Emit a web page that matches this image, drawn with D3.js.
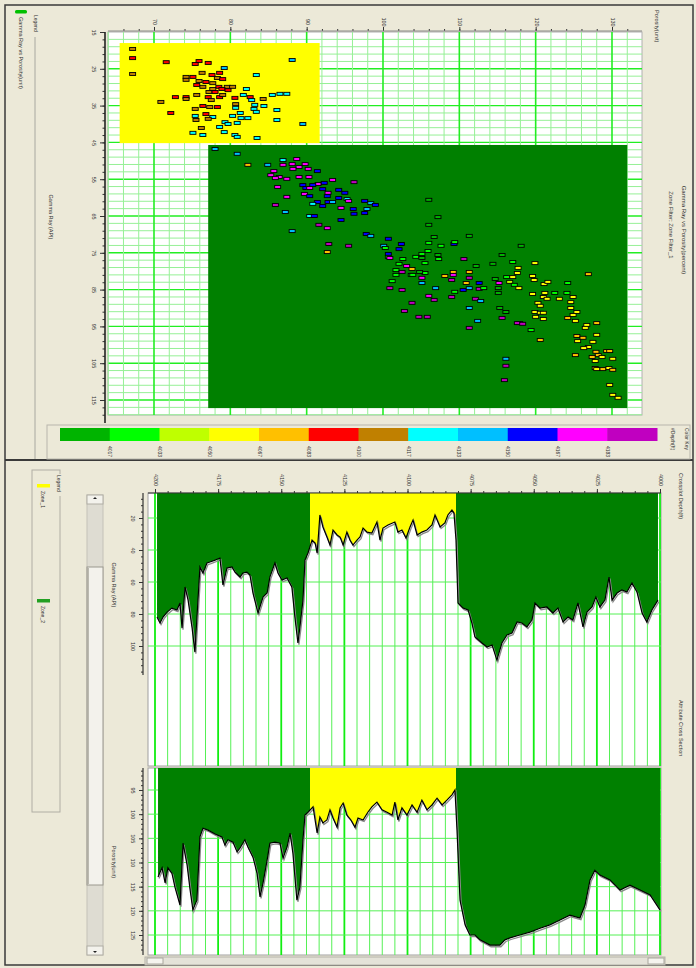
<!DOCTYPE html>
<html>
<head>
<meta charset="utf-8">
<script src="https://cdn.jsdelivr.net/npm/d3@7"></script>
<style>
  body { margin: 0; background: #ece9d8; }
  svg { display: block; font-family: "Liberation Sans", Arial, sans-serif; }
  text { font-size: 5.5px; fill: #333; }
</style>
</head>
<body>
<svg id="chart" width="696" height="968"></svg>
<script>
// ---- data ----
// colour key (depth bins), left to right on the colour bar
var binColors = ["#00b400", "#00ff00", "#bfff00", "#ffff00", "#ffc000", "#ff0000", "#c08000", "#00ffff", "#00bfff", "#0000ff", "#ff00ff", "#c000c0"]
var binKeys = ["dg", "g", "yg", "y", "o", "r", "br", "c", "ds", "b", "m", "p"]
var binLabels = ["4017", "4033", "4050", "4067", "4083", "4100", "4117", "4133", "4150", "4167", "4183"]

// crossplot axes
var gammaTicks = [15, 25, 35, 45, 55, 65, 75, 85, 95, 105, 115]
var porosityTicks = [70, 80, 90, 100, 110, 120, 130]

// zone boxes on the crossplot: [porosityMin, porosityMax, gammaMin, gammaMax, zone]
var zoneBoxes = [
  [65.5, 91.7, 18.0, 45.2, "Zone_1"],
  [77.1, 132.0, 45.7, 117.2, "Zone_2"]
]

// crossplot points: [porosity, gamma, colour key]
var zone1Points = [
  [67.2,19.6,"br"],[67.2,22.1,"r"],[67.2,26.4,"br"],[71.6,23.2,"r"],[75.9,22.9,"r"],[77.1,23.4,"r"],[75.4,23.7,"r"],
  [79.2,24.8,"ds"],[88.1,22.6,"ds"],[76.3,26.1,"br"],[77.6,26.7,"r"],[78.6,26.1,"r"],[78.3,27.5,"br"],[74.2,27.2,"br"],
  [75.1,27.2,"r"],[74.2,28.0,"br"],[75.9,28.3,"br"],[76.8,28.6,"r"],[79.0,27.8,"r"],[77.7,28.9,"br"],[75.6,29.4,"r"],
  [76.4,29.9,"br"],[78.5,29.9,"r"],[79.6,29.9,"br"],[80.3,29.9,"br"],[83.4,26.7,"c"],[77.7,30.5,"br"],[78.9,30.5,"r"],
  [79.7,30.8,"r"],[77.2,31.3,"br"],[78.0,31.3,"r"],[82.1,30.5,"c"],[72.8,32.7,"r"],[74.2,32.7,"r"],[74.2,33.2,"br"],
  [75.6,32.1,"br"],[77.1,32.7,"r"],[77.5,33.5,"br"],[78.6,32.7,"r"],[79.0,32.1,"br"],[80.6,32.9,"r"],[81.7,32.1,"c"],
  [82.6,32.7,"r"],[82.8,33.5,"c"],[84.3,33.2,"br"],[85.5,32.1,"c"],[86.5,31.8,"c"],[87.4,31.8,"c"],[70.9,34.0,"br"],
  [76.4,35.1,"r"],[77.3,35.4,"br"],[78.3,35.4,"r"],[75.4,35.9,"br"],[80.7,34.6,"br"],[80.7,35.6,"c"],[83.2,34.8,"c"],
  [84.4,35.1,"c"],[83.1,35.9,"c"],[83.4,36.7,"c"],[86.1,36.2,"c"],[72.2,37.0,"r"],[76.8,37.3,"r"],[75.4,37.8,"c"],
  [77.7,38.1,"c"],[80.3,37.8,"c"],[81.3,37.0,"c"],[82.3,38.4,"c"],[77.1,38.6,"br"],[75.5,38.9,"br"],[86.1,38.9,"c"],
  [79.3,39.5,"c"],[80.9,39.7,"c"],[79.7,40.0,"c"],[78.6,40.8,"c"],[76.2,41.1,"br"],[75.1,42.4,"c"],[76.4,43.0,"c"],
  [79.2,42.2,"c"],[80.6,43.0,"c"],[80.9,43.5,"c"],[83.5,43.8,"c"],[89.5,40.0,"ds"],[81.4,38.4,"c"]
]
var zone2Points = [
  [78.0,46.8,"ds"],[80.9,48.1,"ds"],[82.3,51.1,"o"],[84.9,51.1,"ds"],[86.9,49.8,"c"],[88.7,49.5,"m"],[86.9,51.1,"m"],
  [88.1,50.9,"m"],[89.0,51.7,"m"],[89.8,50.9,"m"],[88.2,52.2,"m"],[90.2,52.2,"m"],[91.4,52.8,"b"],[85.7,52.8,"m"],
  [85.3,53.9,"m"],[86.4,54.4,"m"],[85.9,54.7,"m"],[87.4,54.9,"m"],[89.0,54.4,"m"],[90.3,54.4,"m"],[93.4,55.2,"m"],
  [96.2,55.8,"p"],[91.5,56.3,"m"],[89.5,56.6,"b"],[90.8,56.6,"b"],[92.3,56.0,"b"],[86.2,57.1,"m"],[89.9,57.4,"b"],
  [90.4,57.4,"m"],[92.1,57.7,"b"],[94.2,57.9,"b"],[95.0,58.7,"b"],[92.8,58.7,"m"],[89.7,59.0,"m"],[90.4,59.6,"b"],
  [92.7,59.6,"b"],[94.2,60.1,"b"],[95.3,60.4,"c"],[95.5,60.9,"m"],[87.4,59.8,"m"],[91.4,61.2,"b"],[90.8,61.7,"c"],
  [92.8,61.2,"b"],[93.4,61.2,"ds"],[92.1,62.3,"b"],[97.6,60.9,"b"],[98.4,61.5,"ds"],[99.0,62.0,"b"],[85.9,62.0,"p"],
  [94.5,62.8,"m"],[96.1,63.1,"b"],[97.9,63.1,"ds"],[97.6,64.2,"b"],[96.2,64.4,"b"],[87.2,63.9,"ds"],[90.4,65.0,"c"],
  [91.0,65.0,"b"],[94.5,66.1,"b"],[91.6,67.4,"p"],[92.7,68.3,"m"],[88.1,69.1,"ds"],[97.8,69.9,"b"],[98.4,70.4,"ds"],
  [100.7,71.2,"b"],[92.9,72.6,"p"],[95.5,73.1,"p"],[92.7,74.8,"o"],[102.4,72.6,"b"],[102.1,74.0,"b"],[100.1,73.1,"ds"],
  [100.3,73.7,"g"],[100.7,75.3,"b"],[100.7,76.1,"g"],[100.9,76.4,"m"],[102.6,76.7,"g"],[102.1,78.0,"g"],[103.1,78.6,"m"],
  [101.7,79.7,"g"],[102.5,80.2,"p"],[101.7,81.0,"g"],[103.7,81.0,"g"],[101.2,82.7,"g"],[100.9,84.6,"p"],[102.5,85.1,"p"],
  [103.8,88.6,"p"],[102.8,90.8,"p"],[104.7,92.4,"p"],[105.8,92.4,"p"],[106.0,86.7,"m"],[106.7,87.8,"p"],[105.1,83.2,"ds"],
  [106.9,84.6,"ds"],[106.0,60.6,"dg"],[107.2,65.3,"dg"],[106.0,67.4,"dg"],[106.7,70.7,"dg"],[106.0,72.3,"g"],[107.6,73.1,"g"],
  [105.9,74.5,"g"],[107.2,75.6,"dg"],[107.3,76.7,"g"],[105.1,75.3,"g"],[104.3,76.1,"g"],[105.1,76.4,"dg"],[105.5,77.8,"g"],
  [105.5,80.5,"g"],[103.8,79.4,"o"],[105.1,81.8,"m"],[103.9,81.0,"g"],[104.8,80.2,"dg"],[108.1,81.3,"o"],[109.2,80.2,"o"],
  [109.3,72.6,"b"],[109.4,72.1,"g"],[109.2,81.0,"m"],[109.0,82.4,"p"],[109.4,85.6,"g"],[109.0,87.0,"p"],[110.5,85.1,"b"],
  [111.3,80.2,"o"],[111.3,81.8,"p"],[110.9,83.2,"o"],[110.6,76.7,"p"],[111.3,70.4,"dg"],[112.6,83.2,"b"],[112.6,84.8,"p"],
  [113.2,84.6,"g"],[111.3,84.6,"ds"],[112.2,78.6,"dg"],[114.4,78.0,"dg"],[112.1,87.5,"p"],[112.8,88.1,"ds"],[111.3,90.0,"ds"],
  [112.4,93.5,"ds"],[111.3,95.4,"p"],[115.6,75.6,"dg"],[117.0,77.5,"g"],[117.7,79.1,"y"],[117.6,80.5,"y"],[116.2,81.6,"g"],
  [117.0,81.6,"y"],[116.6,82.9,"yg"],[117.2,83.7,"g"],[117.8,84.6,"y"],[114.7,82.1,"dg"],[115.2,83.2,"m"],[115.1,84.6,"dg"],
  [115.1,85.9,"dg"],[118.1,73.1,"dg"],[119.9,77.8,"y"],[119.6,81.3,"y"],[119.8,82.4,"y"],[121.1,83.5,"y"],[121.6,82.9,"y"],
  [124.2,83.2,"g"],[126.9,80.8,"o"],[119.6,86.2,"y"],[121.2,85.9,"y"],[122.5,85.9,"g"],[121.0,87.0,"y"],[121.5,87.5,"y"],
  [123.1,87.5,"y"],[120.3,88.6,"y"],[120.6,89.4,"y"],[119.9,91.1,"y"],[120.6,91.3,"y"],[121.0,91.3,"y"],[120.0,92.4,"y"],
  [121.0,93.0,"y"],[124.1,85.9,"g"],[124.9,87.0,"y"],[124.6,88.4,"y"],[124.6,90.0,"y"],[125.4,91.1,"y"],[124.9,91.9,"y"],
  [124.2,92.7,"o"],[125.2,93.5,"y"],[126.7,94.6,"y"],[126.5,95.4,"y"],[128.0,94.1,"o"],[128.0,97.3,"y"],[125.4,97.6,"o"],
  [126.2,98.1,"o"],[125.5,99.0,"y"],[127.5,99.2,"y"],[126.9,100.6,"y"],[126.3,100.9,"y"],[129.3,101.7,"o"],[129.7,101.7,"o"],
  [127.9,101.9,"o"],[128.2,102.8,"o"],[127.4,103.3,"o"],[128.7,103.3,"y"],[127.8,104.4,"y"],[130.1,103.8,"y"],[125.2,102.8,"o"],
  [127.8,106.3,"o"],[128.8,106.6,"o"],[129.6,106.3,"y"],[130.1,106.8,"o"],[128.0,106.6,"y"],[129.7,110.9,"y"],[130.1,113.6,"y"],
  [130.8,114.4,"y"],[120.6,98.7,"o"],[119.4,96.0,"g"],[116.1,103.8,"ds"],[116.1,105.7,"p"],[115.9,109.6,"p"],[117.9,94.1,"m"],
  [117.6,94.1,"p"],[118.3,94.3,"p"],[115.6,92.7,"p"],[115.3,90.0,"dg"],[116.1,91.1,"dg"]
]

// log tracks
var depthTicks = [4000, 4025, 4050, 4075, 4100, 4125, 4150, 4175, 4200]
var grTicks = [20, 40, 60, 80, 100]
var phiTicks = [95, 100, 105, 110, 115, 120, 125]
// zones by depth: [from, to, zone]
var zones = [[4200, 4138.6, "Zone_2"], [4138.6, 4080.8, "Zone_1"], [4080.8, 4000, "Zone_2"]]
var zoneColors = { "Zone_1": "#ffff00", "Zone_2": "#008000" }

// gamma ray log: [depth, API]
var grLog = [
  [4199.2,81.9],[4198.0,85.6],[4196.8,81.9],[4195.2,78.8],[4193.3,76.3],[4191.3,77.5],[4190.1,73.1],[4189.3,88.8],
  [4188.1,63.1],[4186.9,71.3],[4185.3,88.8],[4184.2,103.8],[4182.2,50.6],[4181.0,54.4],[4179.4,48.1],[4178.2,47.5],
  [4176.2,46.3],[4174.3,45.0],[4173.1,61.9],[4171.5,51.3],[4169.5,50.6],[4168.3,53.8],[4166.3,56.9],[4165.2,54.4],
  [4163.6,53.8],[4162.4,55.6],[4161.2,66.9],[4159.2,79.4],[4157.2,69.4],[4155.6,66.9],[4154.5,56.9],[4152.5,48.1],
  [4151.3,54.4],[4149.7,58.8],[4147.7,57.5],[4145.8,63.1],[4144.6,81.9],[4143.4,98.1],[4142.6,88.1],[4141.4,71.3],
  [4140.6,46.3],[4139.4,41.9],[4137.8,33.8],[4136.6,35.6],[4135.8,41.9],[4135.4,33.8],[4134.7,18.1],[4133.5,25.6],
  [4131.9,31.9],[4130.7,36.9],[4129.5,27.5],[4127.9,30.6],[4126.7,31.9],[4125.5,36.9],[4124.0,28.8],[4122.8,33.8],
  [4121.6,36.9],[4120.0,33.8],[4118.8,31.9],[4117.6,26.3],[4116.0,28.8],[4114.1,29.4],[4112.1,22.5],[4110.9,33.8],
  [4109.7,26.3],[4107.7,24.4],[4105.0,22.5],[4103.8,28.8],[4102.2,27.5],[4100.6,32.5],[4099.0,25.6],[4097.8,21.3],
  [4096.2,30.6],[4094.3,28.8],[4092.3,27.5],[4090.3,24.4],[4089.1,18.1],[4087.1,25.6],[4085.2,23.1],[4084.0,18.1],
  [4082.4,15.0],[4081.6,16.9],[4080.8,33.8],[4080.0,73.1],[4078.0,76.3],[4076.0,77.5],[4074.5,85.6],[4073.3,94.4],
  [4070.5,98.1],[4068.5,100.6],[4066.5,99.4],[4064.6,108.8],[4062.6,98.1],[4060.6,93.1],[4058.6,91.9],[4056.6,85.0],
  [4054.7,85.6],[4052.7,88.1],[4050.7,83.8],[4049.5,73.1],[4047.5,76.3],[4044.8,75.6],[4042.4,79.4],[4040.4,76.3],
  [4038.4,85.0],[4036.4,81.9],[4034.5,83.8],[4032.5,73.1],[4030.5,88.1],[4028.9,78.8],[4026.9,75.6],[4025.4,69.4],
  [4023.8,75.6],[4021.8,71.3],[4020.2,56.9],[4019.0,71.3],[4017.0,66.9],[4015.1,65.0],[4013.1,66.3],[4011.1,60.6],
  [4009.1,66.3],[4007.1,79.4],[4005.2,85.0],[4003.2,77.5],[4000.8,71.3]
]

// porosity log: [depth, unit]
var phiLog = [
  [4198.8,113.0],[4197.2,111.1],[4196.0,114.2],[4194.9,111.1],[4193.3,112.2],[4192.1,115.1],[4190.1,118.8],[4188.9,106.0],
  [4187.3,110.5],[4186.1,115.7],[4185.0,119.8],[4183.4,117.8],[4182.2,104.7],[4181.0,102.9],[4179.0,103.3],[4176.2,104.1],
  [4173.5,104.7],[4172.3,106.4],[4171.1,105.3],[4169.1,105.8],[4167.5,107.8],[4166.3,107.0],[4164.4,105.3],[4163.2,106.8],
  [4161.2,108.9],[4159.6,112.2],[4158.4,117.1],[4157.2,114.2],[4155.6,109.5],[4154.5,106.0],[4152.5,105.8],[4150.5,106.0],
  [4149.3,109.1],[4147.7,106.8],[4146.5,103.9],[4145.4,108.0],[4143.8,117.8],[4142.6,115.1],[4141.4,105.3],[4140.6,100.2],
  [4139.4,99.6],[4137.4,98.5],[4135.8,103.9],[4134.7,100.6],[4133.5,101.8],[4131.9,101.2],[4130.7,99.1],[4129.5,100.8],
  [4127.9,102.7],[4126.7,98.7],[4125.5,97.7],[4124.0,100.2],[4122.4,101.2],[4120.8,102.7],[4119.6,100.8],[4117.6,101.2],
  [4115.7,99.6],[4114.1,98.5],[4112.1,97.5],[4110.1,99.1],[4108.1,99.6],[4106.1,100.2],[4105.0,97.5],[4103.8,101.2],
  [4102.2,98.7],[4100.2,100.2],[4098.2,98.1],[4096.2,99.6],[4094.3,97.1],[4092.3,99.1],[4090.3,98.1],[4088.3,96.7],
  [4086.3,98.1],[4084.4,97.1],[4082.4,96.0],[4081.2,95.0],[4080.4,103.3],[4079.2,117.8],[4077.2,122.9],[4075.3,125.0],
  [4073.3,125.0],[4071.3,126.0],[4067.3,127.1],[4063.4,127.1],[4061.4,126.0],[4059.4,125.6],[4055.5,125.0],[4051.5,124.4],
  [4047.5,123.6],[4043.6,122.9],[4039.6,121.9],[4035.7,120.9],[4031.7,121.5],[4029.7,118.8],[4027.7,113.6],[4025.8,111.6],
  [4023.8,112.6],[4019.8,113.6],[4015.8,115.7],[4011.9,114.7],[4007.9,115.7],[4003.9,116.7],[4000.0,119.8]
]

// ---- drawing ----
var svg = d3.select("#chart")
var defs = svg.append("defs")
var colorOf = d3.scaleOrdinal().domain(binKeys).range(binColors)

// vertical text helper: the whole screen is turned a quarter turn, text reads downwards
function vtext(g, x, y, str, anchor, size) {
  return g.append("text")
    .attr("transform", "translate(" + x + "," + y + ") rotate(90)")
    .attr("text-anchor", anchor || "start")
    .attr("dominant-baseline", "middle")
    .style("font-size", (size || 5.5) + "px")
    .text(str)
}
// rotate the tick labels of an axis group
function turnLabels(g, dx, dy) {
  g.selectAll(".tick text")
    .attr("x", 0).attr("y", 0).attr("dy", null)
    .attr("transform", "translate(" + dx + "," + dy + ") rotate(90)")
    .attr("text-anchor", "middle")
    .attr("dominant-baseline", "middle")
    .style("font-size", "5.5px")
}

svg.append("rect").attr("width", 696).attr("height", 968).attr("fill", "#ece9d8")

// outer frame + divider between the two windows
svg.append("rect").attr("x", 5).attr("y", 5).attr("width", 688).attr("height", 960)
  .attr("fill", "none").attr("stroke", "#3a3a3a").attr("stroke-width", 1.5)
svg.append("line").attr("x1", 5).attr("x2", 693).attr("y1", 460).attr("y2", 460)
  .attr("stroke", "#3a3a3a").attr("stroke-width", 2)

/* ================= crossplot (upper window) ================= */
var upper = svg.append("g")
var gx = d3.scaleLinear().domain([15, 115]).range([32, 400])   // gamma ray -> down the page
var py = d3.scaleLinear().domain([70, 130]).range([154, 612])  // porosity -> across the page
var box = { x0: 108, x1: 642, y0: 32, y1: 415 }

// legend strip
upper.append("line").attr("x1", 35).attr("x2", 35).attr("y1", 37).attr("y2", 459).attr("stroke", "#a8a8a0")
vtext(upper, 35, 15, "Legend", "start", 5)
upper.append("rect").attr("x", 15).attr("y", 10).attr("width", 12).attr("height", 3.5).attr("rx", 1.5).attr("fill", "#00c000")
vtext(upper, 20, 17, "Gamma Ray vs Porosity(unit)", "start", 5.5)

// plot background + grid
upper.append("rect").attr("x", box.x0).attr("y", box.y0).attr("width", box.x1 - box.x0).attr("height", box.y1 - box.y0)
  .attr("fill", "#fff").attr("stroke", "#b0b0b0")
var gMinor = d3.range(17, gx.invert(box.y1), 2)
var pMinor = d3.range(64, py.invert(box.x1), 2)
upper.selectAll(".hgrid").data(gMinor).enter().append("line")
  .attr("x1", box.x0).attr("x2", box.x1)
  .attr("y1", function(d) { return gx(d) }).attr("y2", function(d) { return gx(d) })
  .attr("stroke", function(d) { return (d - 15) % 10 === 0 ? "#22ee22" : "#96f096" })
  .attr("stroke-width", function(d) { return (d - 15) % 10 === 0 ? 1.4 : 1 })
upper.selectAll(".vgrid").data(pMinor).enter().append("line")
  .attr("y1", box.y0).attr("y2", box.y1)
  .attr("x1", function(d) { return py(d) }).attr("x2", function(d) { return py(d) })
  .attr("stroke", function(d) { return d % 10 === 0 ? "#22ee22" : "#96f096" })
  .attr("stroke-width", function(d) { return d % 10 === 0 ? 1.6 : 1 })

// zone boxes
upper.selectAll(".zone").data(zoneBoxes).enter().append("rect")
  .attr("x", function(d) { return py(d[0]) })
  .attr("width", function(d) { return py(d[1]) - py(d[0]) })
  .attr("y", function(d) { return gx(d[2]) })
  .attr("height", function(d) { return gx(d[3]) - gx(d[2]) })
  .attr("fill", function(d) { return zoneColors[d[4]] })

// points
var allPts = zone1Points.concat(zone2Points)
upper.selectAll(".pt").data(allPts).enter().append("rect")
  .attr("x", function(d) { return py(d[0]) - 3 })
  .attr("y", function(d) { return gx(d[1]) - 1.5 })
  .attr("width", 6).attr("height", 3)
  .attr("fill", function(d) { return colorOf(d[2]) })
  .attr("stroke", "#000").attr("stroke-width", 0.9)

// gamma axis (left side of the page)
var gAxis = upper.append("g").attr("transform", "translate(105,0)")
  .call(d3.axisLeft(gx).tickValues(gammaTicks).tickSize(5))
gAxis.select(".domain").remove()
turnLabels(gAxis, -12, 0)
upper.append("g").attr("transform", "translate(105,0)")
  .call(d3.axisLeft(gx).tickValues(d3.range(17, 120, 2)).tickSize(2.5).tickFormat(""))
  .select(".domain").remove()
upper.append("line").attr("x1", 105).attr("x2", 105).attr("y1", 32).attr("y2", 423)
  .attr("stroke", "#222").attr("stroke-width", 1.6)
vtext(upper, 50, 217, "Gamma Ray (API)", "middle", 5.5)

// porosity axis (top of the page)
var pAxis = upper.append("g").attr("transform", "translate(0,31)")
  .call(d3.axisTop(py).tickValues(porosityTicks).tickSize(4))
pAxis.select(".domain").remove()
turnLabels(pAxis, 0, -9)
upper.append("g").attr("transform", "translate(0,31)")
  .call(d3.axisTop(py).tickValues(d3.range(66, 134, 2)).tickSize(2).tickFormat(""))
  .select(".domain").remove()
upper.append("line").attr("x1", box.x0).attr("x2", box.x1).attr("y1", 31).attr("y2", 31).attr("stroke", "#888")
vtext(upper, 656, 10, "Porosity(unit)", "start", 5.5)

// titles
vtext(upper, 684, 230, "Gamma Ray vs Porosity(percent)", "middle", 6)
vtext(upper, 671, 225, "Zone Filter: Zone Filter_1", "middle", 6)

// colour key
upper.append("rect").attr("x", 47).attr("y", 425).attr("width", 643).attr("height", 34)
  .attr("fill", "none").attr("stroke", "#b8b6ac")
var cb = d3.scaleBand().domain(d3.range(binColors.length)).range([60, 657])
upper.selectAll(".cb").data(binColors).enter().append("rect")
  .attr("x", function(d, i) { return cb(i) }).attr("width", cb.bandwidth() + 0.5)
  .attr("y", 428).attr("height", 13)
  .attr("fill", function(d) { return d })
binLabels.forEach(function(l, i) { vtext(upper, cb(i + 1), 446, l, "start", 5) })
vtext(upper, 686, 428, "Color Key", "start", 5)
vtext(upper, 672, 428, "#Depth(ft)", "start", 5)

/* ================= log tracks (lower window) ================= */
var lower = svg.append("g")
var depthX = d3.scaleLinear().domain([4200, 4000]).range([155, 660])
var grY = d3.scaleLinear().domain([20, 100]).range([518, 646])
var phiY = d3.scaleLinear().domain([95, 125]).range([790, 935])
var tr1 = { top: 493, bottom: 766 }
var tr2 = { top: 768, bottom: 955 }
var trX0 = 148, trX1 = 661

// legend box
lower.append("rect").attr("x", 32).attr("y", 470).attr("width", 28).attr("height", 342)
  .attr("fill", "none").attr("stroke", "#b0aea4")
lower.append("rect").attr("x", 55).attr("y", 474).attr("width", 8).attr("height", 22).attr("fill", "#ece9d8")
vtext(lower, 58, 475, "Legend", "start", 5)
var legendItems = [["Zone_1", 484], ["Zone_2", 599]]
legendItems.forEach(function(it) {
  lower.append("rect").attr("x", 37).attr("y", it[1]).attr("width", 13).attr("height", 3.5)
    .attr("fill", it[0] === "Zone_1" ? "#ffff00" : "#22a022")
  vtext(lower, 42, it[1] + 7, it[0], "start", 5)
})

// vertical scroll bar
lower.append("rect").attr("x", 87).attr("y", 495).attr("width", 16).attr("height", 460)
  .attr("fill", "#dedcd2").attr("stroke", "#c4c2b8")
lower.append("rect").attr("x", 87).attr("y", 567).attr("width", 16).attr("height", 318)
  .attr("fill", "#f3f2ec").attr("stroke", "#9a988e")
lower.append("line").attr("x1", 88).attr("x2", 88).attr("y1", 568).attr("y2", 884).attr("stroke", "#a8a69c").attr("stroke-width", 1.5)
;[[497, 1], [953, -1]].forEach(function(b) {
  lower.append("rect").attr("x", 87).attr("y", b[1] > 0 ? 495 : 946).attr("width", 16).attr("height", 9)
    .attr("fill", "#f3f2ec").attr("stroke", "#b0aea4")
  lower.append("path").attr("d", "M93," + (b[0] + 2 * b[1]) + "l4,0l-2," + (-2 * b[1]) + "z").attr("fill", "#222")
})

// track backgrounds
;[tr1, tr2].forEach(function(t) {
  lower.append("rect").attr("x", trX0).attr("y", t.top).attr("width", trX1 - trX0).attr("height", t.bottom - t.top)
    .attr("fill", "#fff").attr("stroke", "#a0a0a0")
})

// depth grid
var depthMinor = d3.range(4000, 4201, 5)
;[tr1, tr2].forEach(function(t) {
  lower.selectAll(null).data(depthMinor).enter().append("line")
    .attr("x1", function(d) { return depthX(d) }).attr("x2", function(d) { return depthX(d) })
    .attr("y1", t.top).attr("y2", t.bottom)
    .attr("stroke", function(d) { return d % 25 === 0 ? "#11ee11" : "#55f055" })
    .attr("stroke-width", function(d) { return d % 25 === 0 ? 1.8 : 1 })
})
lower.selectAll(".gr-grid").data(grTicks).enter().append("line")
  .attr("x1", trX0).attr("x2", trX1)
  .attr("y1", function(d) { return grY(d) }).attr("y2", function(d) { return grY(d) })
  .attr("stroke", "#55f055")
lower.selectAll(".phi-grid").data(phiTicks).enter().append("line")
  .attr("x1", trX0).attr("x2", trX1)
  .attr("y1", function(d) { return phiY(d) }).attr("y2", function(d) { return phiY(d) })
  .attr("stroke", "#55f055")

// filled curves, coloured by zone
function drawLog(data, yScale, t, name) {
  var area = d3.area()
    .x(function(d) { return depthX(d[0]) })
    .y0(t.top)
    .y1(function(d) { return yScale(d[1]) })
  zones.forEach(function(z, i) {
    var id = name + "-clip-" + i
    defs.append("clipPath").attr("id", id).append("rect")
      .attr("x", depthX(z[0])).attr("width", depthX(z[1]) - depthX(z[0]))
      .attr("y", t.top).attr("height", t.bottom - t.top)
    lower.append("path").datum(data).attr("d", area)
      .attr("fill", zoneColors[z[2]]).attr("clip-path", "url(#" + id + ")")
  })
  var line = d3.line()
    .x(function(d) { return depthX(d[0]) })
    .y(function(d) { return yScale(d[1]) })
  lower.append("path").datum(data).attr("d", line).attr("fill", "none")
    .attr("stroke", "#8a8a8a").attr("stroke-width", 1.3).attr("transform", "translate(1,1.6)")
  lower.append("path").datum(data).attr("d", line).attr("fill", "none")
    .attr("stroke", "#000").attr("stroke-width", 1.2)
}
drawLog(grLog, grY, tr1, "gr")
drawLog(phiLog, phiY, tr2, "phi")

// value axes on the left of each track
var grAxis = lower.append("g").attr("transform", "translate(143,0)")
  .call(d3.axisLeft(grY).tickValues(grTicks).tickSize(4))
grAxis.select(".domain").remove()
turnLabels(grAxis, -11, 0)
lower.append("g").attr("transform", "translate(143,0)")
  .call(d3.axisLeft(grY).tickValues(d3.range(8, 118, 4)).tickSize(2).tickFormat(""))
  .select(".domain").remove()
lower.append("line").attr("x1", 143).attr("x2", 143).attr("y1", tr1.top).attr("y2", 675).attr("stroke", "#333").attr("stroke-width", 1.2)
vtext(lower, 113, 585, "Gamma Ray (API)", "middle", 5.5)

var phiAxis = lower.append("g").attr("transform", "translate(143,0)")
  .call(d3.axisLeft(phiY).tickValues(phiTicks).tickSize(4))
phiAxis.select(".domain").remove()
turnLabels(phiAxis, -11, 0)
lower.append("g").attr("transform", "translate(143,0)")
  .call(d3.axisLeft(phiY).tickValues(d3.range(91, 129, 1)).tickSize(2).tickFormat(""))
  .select(".domain").remove()
lower.append("line").attr("x1", 143).attr("x2", 143).attr("y1", tr2.top).attr("y2", tr2.bottom).attr("stroke", "#333").attr("stroke-width", 1.2)
vtext(lower, 113, 862, "Porosity(unit)", "middle", 5.5)

// depth axis across the top of the tracks
var dAxis = lower.append("g").attr("transform", "translate(0," + tr1.top + ")")
  .call(d3.axisTop(depthX).tickValues(depthTicks).tickSize(4).tickFormat(d3.format("d")))
dAxis.select(".domain").remove()
turnLabels(dAxis, 0, -13)
lower.append("g").attr("transform", "translate(0," + tr1.top + ")")
  .call(d3.axisTop(depthX).tickValues(depthMinor).tickSize(2).tickFormat(""))
  .select(".domain").remove()
lower.append("line").attr("x1", trX0).attr("x2", trX1).attr("y1", tr1.top).attr("y2", tr1.top).attr("stroke", "#333")

vtext(lower, 680, 473, "Crossplot Depth(ft)", "start", 5.5)
vtext(lower, 680, 700, "Attribute Cross Section", "start", 5.5)

// horizontal scroll bar under the tracks
lower.append("rect").attr("x", 145).attr("y", 957).attr("width", 520).attr("height", 8)
  .attr("fill", "#e4e2d8").attr("stroke", "#b4b2a8")
;[147, 648].forEach(function(x) {
  lower.append("rect").attr("x", x).attr("y", 958).attr("width", 16).attr("height", 6)
    .attr("fill", "#f5f4ee").attr("stroke", "#a8a69c")
})

svg.selectAll(".tick line").attr("stroke", "#333")
</script>
</body>
</html>
